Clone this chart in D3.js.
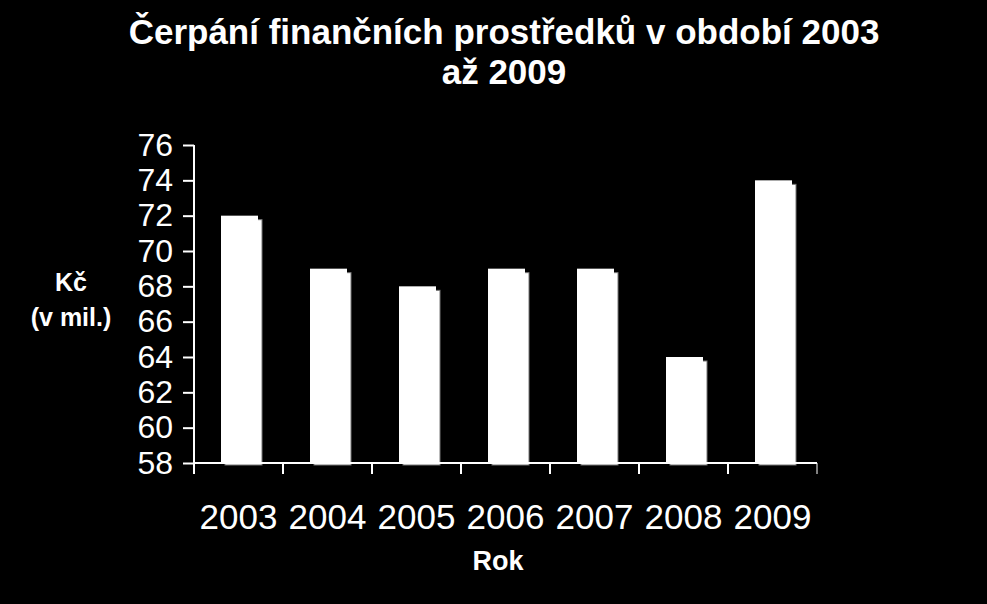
<!DOCTYPE html>
<html><head><meta charset="utf-8">
<script src="https://cdn.jsdelivr.net/npm/d3@7"></script>
<style>body{margin:0;background:#000}</style></head>
<body><svg id="c" width="987" height="604"></svg>
<script>
const years = ["2003","2004","2005","2006","2007","2008","2009"];
const values = [72, 69, 68, 69, 69, 64, 74];
const yTicks = [58,60,62,64,66,68,70,72,74,76];

const svg = d3.select("#c");
svg.append("rect").attr("width",987).attr("height",604).attr("fill","#000");
const x = d3.scaleBand().domain(years).range([194, 817]);
const y = d3.scaleLinear().domain([58, 76]).range([463, 145]);
const font = "Liberation Sans, Arial, sans-serif";

// bars: shadow piece then front
const bw = 37;
years.forEach((yr, i) => {
  const x0 = x(yr) + 27;
  svg.append("rect").attr("x", x0 + 4).attr("y", y(values[i]) + 4)
    .attr("width", bw).attr("height", y(58) - y(values[i]) - 2)
    .attr("fill", "#fff").attr("stroke", "#777").attr("stroke-width", 1);
  svg.append("rect").attr("x", x0).attr("y", y(values[i]))
    .attr("width", bw).attr("height", y(58) - y(values[i]))
    .attr("fill", "#fff");
});

const ya = svg.append("g").attr("transform", "translate(194,0)")
  .call(d3.axisLeft(y).tickValues(yTicks).tickSize(11).tickPadding(10));
ya.selectAll("text").attr("font-size", 32).attr("font-family", font).attr("fill", "#fff");
const xa = svg.append("g").attr("transform", "translate(0,463)")
  .call(d3.axisBottom(x).tickSize(11).tickPadding(30));
xa.selectAll(".tick line").attr("transform", `translate(${-x.bandwidth()/2},0)`);
xa.append("line").attr("x1", 817).attr("x2", 817).attr("y1", 0).attr("y2", 11).attr("stroke", "#fff");
xa.selectAll("text").attr("font-size", 35).attr("font-family", font).attr("fill", "#fff");
svg.selectAll(".domain, .tick line").attr("stroke", "#fff").attr("stroke-width", 2);
svg.selectAll(".domain").attr("d", function(){ return d3.select(this.parentNode).attr("transform").includes("194,0") ? "M0,145V463" : "M194,0H817"; });

const title = svg.append("text").attr("text-anchor", "middle").attr("font-family", font)
  .attr("font-weight", "bold").attr("font-size", 35).attr("fill", "#fff");
title.append("tspan").attr("x", 504).attr("y", 44).text("Čerpání finančních prostředků v období 2003");
title.append("tspan").attr("x", 504).attr("y", 84).text("až 2009");

const yl = svg.append("text").attr("text-anchor", "middle").attr("font-family", font)
  .attr("font-weight", "bold").attr("font-size", 25).attr("fill", "#fff");
yl.append("tspan").attr("x", 71).attr("y", 291).text("Kč");
yl.append("tspan").attr("x", 71).attr("y", 326).text("(v mil.)");
svg.append("text").attr("x", 498).attr("y", 570).attr("text-anchor", "middle").attr("font-family", font)
  .attr("font-weight", "bold").attr("font-size", 27).attr("fill", "#fff").text("Rok");
</script></body></html>
